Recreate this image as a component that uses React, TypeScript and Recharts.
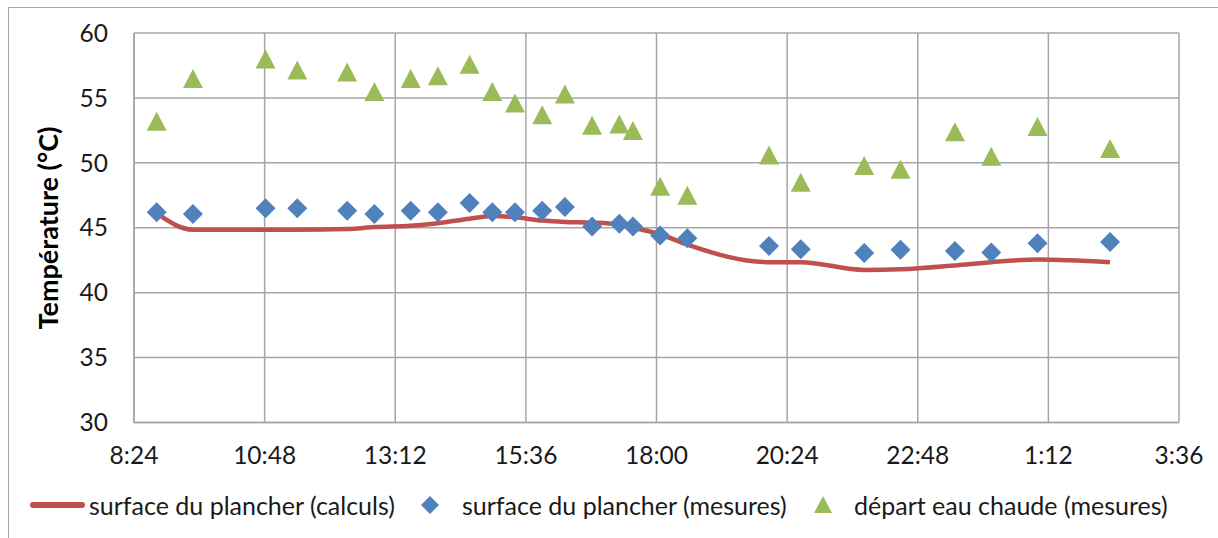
import React from 'react';
import { ComposedChart, Line, Scatter, XAxis, YAxis, CartesianGrid } from 'recharts';

// heures des relevés (la nuit continue après minuit)
const mesureTimes = ['8:49', '9:29', '10:49', '11:24', '12:19', '12:49', '13:29', '13:59', '14:34', '14:59', '15:24', '15:54', '16:19', '16:49', '17:19', '17:34', '18:04', '18:34', '20:04', '20:39', '21:49', '22:29', '23:29', '0:09', '1:00', '2:20'];
const surfaceMesures = [46.2, 46.05, 46.5, 46.5, 46.3, 46.05, 46.3, 46.2, 46.9, 46.2, 46.2, 46.3, 46.6, 45.1, 45.3, 45.1, 44.4, 44.2, 43.6, 43.35, 43.05, 43.3, 43.2, 43.1, 43.8, 43.9];
const departMesures = [53.2, 56.5, 58.0, 57.15, 57.0, 55.5, 56.5, 56.7, 57.6, 55.5, 54.6, 53.7, 55.3, 52.9, 53.0, 52.5, 48.2, 47.5, 50.6, 48.5, 49.8, 49.5, 52.4, 50.5, 52.8, 51.1];

const calcTimes = ['8:49', '9:29', '10:49', '11:24', '12:19', '12:49', '13:29', '13:59', '14:34', '14:59', '15:24', '15:54', '16:19', '16:49', '17:19', '17:34', '18:04', '18:34', '20:04', '20:39', '21:49', '22:29', '23:29', '0:09', '1:00', '2:20'];
const calcValues = [46.1, 44.85, 44.85, 44.85, 44.9, 45.05, 45.15, 45.35, 45.7, 45.9, 45.8, 45.55, 45.45, 45.4, 45.25, 45.0, 44.5, 43.7, 42.35, 42.35, 41.75, 41.8, 42.1, 42.35, 42.55, 42.35];

const xTicks = ['8:24', '10:48', '13:12', '15:36', '18:00', '20:24', '22:48', '1:12', '3:36'];
const yTicks = [30, 35, 40, 45, 50, 55, 60];

const nameCalc = 'surface du plancher (calculs)';
const nameSurf = 'surface du plancher (mesures)';
const nameDepart = 'départ eau chaude (mesures)';

const RED = '#c0504d';
const BLUE = '#4f81bd';
const GREEN = '#9bbb59';
const GRID = '#a6a6a6';
const TEXT = '#1a1a1a';
const FONT = 'Lato, "Open Sans", sans-serif';

const toMin = (s: string) => {
  const [h, m] = s.split(':').map(Number);
  return (h < 8 ? h + 24 : h) * 60 + m;
};
const fmt = (v: number) => {
  const t = v % 1440;
  const m = t % 60;
  return `${Math.floor(t / 60)}:${m < 10 ? '0' : ''}${m}`;
};

const calcData = calcTimes.map((t, i) => ({ t: toMin(t), v: calcValues[i] }));
const surfData = mesureTimes.map((t, i) => ({ t: toMin(t), v: surfaceMesures[i] }));
const departData = mesureTimes.map((t, i) => ({ t: toMin(t), v: departMesures[i] }));

const Diamond = (props: any) => {
  const { cx, cy } = props;
  const r = 10;
  return <polygon points={`${cx},${cy - r} ${cx + r},${cy} ${cx},${cy + r} ${cx - r},${cy}`} fill={BLUE} />;
};

const Triangle = (props: any) => {
  const { cx, cy } = props;
  return <polygon points={`${cx},${cy - 9.5} ${cx + 10},${cy + 9.5} ${cx - 10},${cy + 9.5}`} fill={GREEN} />;
};

const legendText: React.CSSProperties = {
  position: 'absolute',
  top: 505,
  transform: 'translateY(-50%)',
  fontFamily: FONT,
  fontSize: 25,
  color: TEXT,
  whiteSpace: 'nowrap',
};

export default function App() {
  return (
    <div style={{ position: 'absolute', left: 0, top: 0, width: 1218, height: 538, overflow: 'hidden', background: '#fff' }}>
      <div style={{ position: 'absolute', left: 8, top: 7, width: 1400, height: 800, border: `1px solid ${GRID}` }} />
      <div style={{ position: 'absolute', left: 0, top: 0 }}>
        <ComposedChart width={1218} height={538} margin={{ top: 33, right: 39, bottom: 85.5, left: 34 }}>
          <CartesianGrid stroke={GRID} strokeWidth={1.5} />
          <XAxis
            type="number"
            dataKey="t"
            domain={[toMin(xTicks[0]), toMin(xTicks[xTicks.length - 1])]}
            ticks={xTicks.map(toMin)}
            tickFormatter={fmt}
            allowDataOverflow
            height={30}
            tickSize={0}
            tickMargin={24}
            axisLine={{ stroke: GRID, strokeWidth: 1.5 }}
            tick={{ fill: TEXT, fontSize: 24.5, fontFamily: FONT }}
          />
          <YAxis
            type="number"
            domain={[30, 60]}
            ticks={yTicks}
            width={100}
            tickSize={0}
            tickMargin={26}
            axisLine={{ stroke: GRID, strokeWidth: 1.5 }}
            tick={{ fill: TEXT, fontSize: 24.5, fontFamily: FONT }}
            label={{
              content: () => (
                <text
                  x={47}
                  y={228}
                  transform="rotate(-90 47 228)"
                  textAnchor="middle"
                  dominantBaseline="central"
                  fontFamily={FONT}
                  fontWeight="bold"
                  fontSize={27}
                  fill="#000"
                >
                  Température (°C)
                </text>
              ),
            }}
          />
          <Line
            data={calcData}
            dataKey="v"
            name={nameCalc}
            type="monotone"
            stroke={RED}
            strokeWidth={4.5}
            dot={false}
            activeDot={false}
            isAnimationActive={false}
          />
          <Scatter data={surfData} dataKey="v" name={nameSurf} shape={Diamond} isAnimationActive={false} />
          <Scatter data={departData} dataKey="v" name={nameDepart} shape={Triangle} isAnimationActive={false} />
        </ComposedChart>
      </div>

      {/* légende */}
      <div style={{ position: 'absolute', left: 30, top: 502, width: 55, height: 6, background: RED, borderRadius: 3 }} />
      <div style={{ ...legendText, left: 89 }}>{nameCalc}</div>
      <svg style={{ position: 'absolute', left: 421, top: 496 }} width={18} height={18}>
        <polygon points="9,0 18,9 9,18 0,9" fill={BLUE} />
      </svg>
      <div style={{ ...legendText, left: 462 }}>{nameSurf}</div>
      <svg style={{ position: 'absolute', left: 814, top: 496 }} width={18} height={18}>
        <polygon points="9,0 18,17 0,17" fill={GREEN} />
      </svg>
      <div style={{ ...legendText, left: 854 }}>{nameDepart}</div>
    </div>
  );
}
